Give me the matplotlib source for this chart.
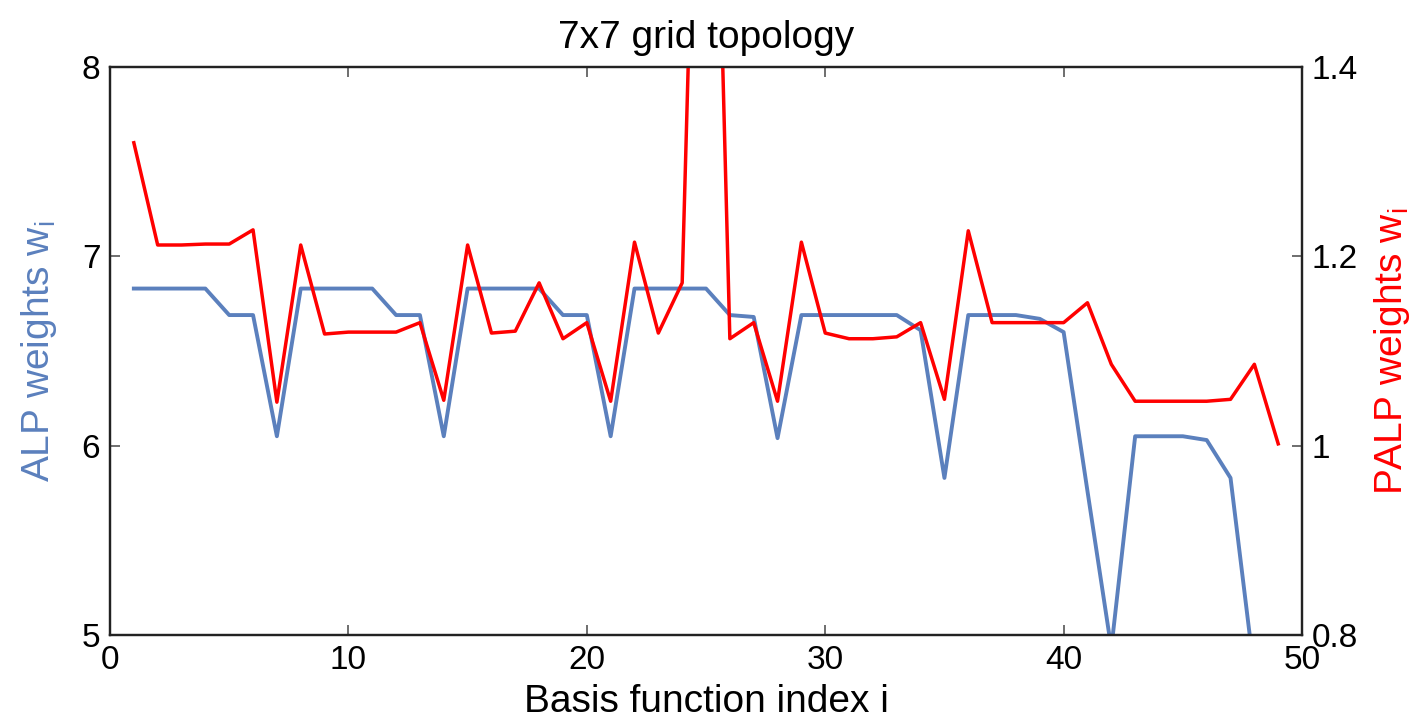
import numpy as np
import matplotlib
matplotlib.use('Agg')
import matplotlib.pyplot as plt

plt.rcParams['font.family'] = ['Liberation Sans', 'DejaVu Sans']
plt.rcParams['mathtext.fontset'] = 'custom'
plt.rcParams['mathtext.rm'] = 'Liberation Sans'
plt.rcParams['mathtext.it'] = 'Liberation Sans'

# basis function index and weights
idx = list(range(1, 50))
alp = [6.83, 6.83, 6.83, 6.83, 6.69, 6.69, 6.05, 6.83, 6.83, 6.83,
       6.83, 6.69, 6.69, 6.05, 6.83, 6.83, 6.83, 6.83, 6.69, 6.69,
       6.05, 6.83, 6.83, 6.83, 6.83, 6.69, 6.68, 6.04, 6.69, 6.69,
       6.69, 6.69, 6.69, 6.61, 5.83, 6.69, 6.69, 6.69, 6.67, 6.60,
       5.76, 4.93, 6.05, 6.05, 6.05, 6.03, 5.83, 4.80, 4.60]
palp = [1.320, 1.212, 1.212, 1.213, 1.213, 1.228, 1.046, 1.212, 1.118, 1.120,
        1.120, 1.120, 1.130, 1.048, 1.212, 1.119, 1.121, 1.172, 1.113, 1.130,
        1.047, 1.215, 1.119, 1.172, 2.080, 1.113, 1.130, 1.047, 1.215, 1.119,
        1.113, 1.113, 1.115, 1.130, 1.049, 1.227, 1.130, 1.130, 1.130, 1.130,
        1.151, 1.086, 1.047, 1.047, 1.047, 1.047, 1.049, 1.086, 1.002]

blue = '#5B80BD'
red = '#FF0000'
tickc = '#555555'

fig = plt.figure(figsize=(14.23, 7.25), dpi=100)
ax = fig.add_axes([0.0773, 0.124, 0.8377, 0.7836])
ax2 = ax.twinx()

ax.plot(idx, alp, color=blue, lw=2.8)
ax2.plot(idx, palp, color=red, lw=2.5)

ax.set_xlim(0, 50)
ax.set_ylim(5, 8)
ax2.set_ylim(0.8, 1.4)
ax.set_xticks([0, 10, 20, 30, 40, 50])
ax.set_yticks([5, 6, 7, 8])
ax2.set_yticks([0.8, 1.0, 1.2, 1.4])
ax2.set_yticklabels(['0.8', '1', '1.2', '1.4'])

ax.tick_params(axis='x', direction='in', length=7, width=1.2, color=tickc,
               top=True, labelsize=24, pad=7)
ax.tick_params(axis='y', direction='in', length=7, width=1.2, color=tickc,
               labelsize=24, pad=7)
ax2.tick_params(axis='y', direction='in', length=7, width=1.2, color=tickc,
                labelsize=24, pad=7)

for a in (ax, ax2):
    for s in a.spines.values():
        s.set_linewidth(1.6)
        s.set_color('#222222')

ax.set_title('7x7 grid topology', fontsize=28, pad=14)
ax.set_xlabel('Basis function index i', fontsize=28, labelpad=6)
ax.set_ylabel(r'ALP weights w$_\mathrm{i}$', fontsize=28, color=blue, labelpad=16)
ax2.set_ylabel(r'PALP weights w$_\mathrm{i}$', fontsize=28, color=red,
               rotation=90, labelpad=10)

fig.savefig('out.png', dpi=100)
